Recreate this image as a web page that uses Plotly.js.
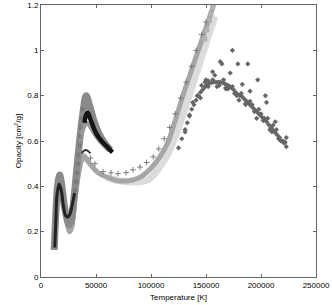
<!DOCTYPE html>
<html><head><meta charset="utf-8">
<script src="https://cdn.plot.ly/plotly-3.0.1.min.js"></script>
<style>html,body{margin:0;padding:0;background:#fff}#c{width:332px;height:305px}</style>
</head><body><div id="c"></div>
<script>
// Very light band (shifted right)
const paleT = [60000,70000,80000,90000,98000,104000,110000,116000,122000,128000,134000,140000,146000,152000,158000];
const paleO = [0.44,0.425,0.42,0.42,0.43,0.46,0.50,0.55,0.62,0.70,0.79,0.88,0.97,1.06,1.15];
// Lower band (light gray), rising to the top
const lowT = [12000,13500,15000,16500,18500,21000,23500,26000,28000,30000,33000,36000,39000,42000,46000,52000,60000,70000,80000,90000,100000,108000,115000,122000,129000,136000,143000,150000,157000];
const lowO = [0.12,0.24,0.38,0.44,0.42,0.33,0.25,0.20,0.22,0.30,0.42,0.50,0.535,0.515,0.49,0.46,0.44,0.425,0.425,0.44,0.48,0.53,0.59,0.69,0.80,0.90,1.0,1.1,1.2];
// Squares at the top end
const sqT = [149000,151000,153000,154500,156000,157500];
const sqO = [1.05,1.09,1.13,1.16,1.19,1.21];
// Crosses
const crT = [45000,49000,56400,63600,70000,77300,83600,90000,96000,102000,107000,112000,117000,122000,127000,132000,137000,141000,146000,150000];
const crO = [0.525,0.50,0.465,0.46,0.456,0.46,0.473,0.485,0.505,0.53,0.565,0.61,0.66,0.72,0.79,0.86,0.93,1.0,1.07,1.125];
// Medium gray band with high peak
const medT = [12000,13500,15000,17000,19000,21000,23000,25500,27500,30000,34000,38000,41000,44000,48000,53000,58000,63000];
const medO = [0.12,0.28,0.40,0.45,0.40,0.32,0.27,0.23,0.25,0.35,0.55,0.72,0.80,0.76,0.69,0.63,0.59,0.56];
// Lighter gray curve under the black
const midT = [36000,39000,42000,45000,50000,55000,60000];
const midO = [0.60,0.66,0.68,0.66,0.62,0.59,0.565];
// Black curve, low-temperature part
const blkLowT = [12500,13500,14500,16500,18500,20500,22500,24500,26500,28500,30500];
const blkLowO = [0.13,0.25,0.36,0.41,0.38,0.31,0.27,0.265,0.28,0.32,0.37];
// Black curve, peak part
const blkT = [39500,41000,42500,45000,50000,55000,60000,65000];
const blkO = [0.68,0.715,0.725,0.695,0.635,0.60,0.575,0.55];
// Open circles along the rising flank
const ocT = [31000,32000,33000,33500,34000,35000,35500,36000,37000,37500];
const ocO = [0.38,0.42,0.46,0.50,0.54,0.58,0.62,0.66,0.70,0.74];
// Small dark curve near lower peak
const dkT = [37000,39000,41000,43000,45000];
const dkO = [0.545,0.557,0.56,0.555,0.545];
// Dark diamonds
const diaT = [125000,128000,131000,133000,135000,137000,139000,141000,143000,145000,147000,149000,151000,153000,155000,157000,159000,161000,163000,165000,167000,169000,171000,173000,175000,177000,179000,181000,183000,185000,187000,189000,191000,193000,195000,197000,199000,201000,203000,205000,207000,209000,211000,213000,215000,217000,219000,221000,223000,
  163000,164500,174000,179000,188000,156000,172000,158000,183000,197000,190000,204000,205000,213000,216000,223000,149000,131000,135000,145000,150000,160000,168000,176000,186000,196000,200000,208000,211000,220000,
  138000,142000,146000,152000,156000,162000,166000,170000,174000,178000,182000,186000,190000,194000,198000,202000,206000,210000,214000,218000,222000,152000,168000,180000,192000,203000];
const diaO = [0.57,0.61,0.65,0.68,0.71,0.74,0.76,0.78,0.80,0.815,0.826,0.838,0.848,0.855,0.857,0.86,0.86,0.86,0.86,0.857,0.853,0.848,0.843,0.835,0.826,0.815,0.805,0.80,0.795,0.785,0.775,0.765,0.755,0.745,0.735,0.725,0.715,0.705,0.695,0.685,0.672,0.66,0.648,0.636,0.625,0.615,0.60,0.59,0.575,
  0.95,0.94,1.0,0.94,0.94,0.905,0.90,0.89,0.85,0.87,0.82,0.80,0.77,0.685,0.61,0.615,0.86,0.64,0.715,0.79,0.87,0.84,0.83,0.81,0.76,0.70,0.72,0.65,0.67,0.60,
  0.77,0.80,0.845,0.84,0.87,0.845,0.87,0.83,0.84,0.80,0.81,0.765,0.775,0.73,0.74,0.69,0.70,0.64,0.65,0.60,0.595,0.865,0.835,0.78,0.76,0.70];

const axisFont = {family: 'Liberation Sans, Arial, sans-serif', size: 8, color: '#000'};
const traces = [
  {x: paleT, y: paleO, mode: 'lines', line: {color: '#dcdcdc', width: 7, shape: 'spline'}},
  {x: lowT, y: lowO, mode: 'lines', line: {color: '#a6a6a6', width: 5, shape: 'spline'}},
  {x: sqT, y: sqO, mode: 'markers', marker: {symbol: 'square', size: 5, color: '#b4b4b4'}},
  {x: crT, y: crO, mode: 'markers', marker: {symbol: 'cross-thin-open', size: 4, color: '#7a7a7a', line: {color: '#7a7a7a', width: 1}}},
  {x: blkLowT, y: blkLowO, mode: 'lines', line: {color: '#151515', width: 4, shape: 'spline'}},
  {x: medT, y: medO, mode: 'lines', line: {color: '#8a8a8a', width: 7, shape: 'spline'}},
  {x: midT, y: midO, mode: 'lines', line: {color: '#9a9a9a', width: 4, shape: 'spline'}},
  {x: ocT, y: ocO, mode: 'markers', marker: {symbol: 'circle-open', size: 3, color: '#666', line: {color: '#666', width: 0.8}}},
  {x: blkLowT, y: blkLowO, mode: 'lines', line: {color: '#222', width: 3, shape: 'spline'}},
  {x: blkT, y: blkO, mode: 'lines', line: {color: '#151515', width: 4.5, shape: 'spline'}},
  {x: dkT, y: dkO, mode: 'lines', line: {color: '#333', width: 2, shape: 'spline'}},
  {x: diaT, y: diaO, mode: 'markers', marker: {symbol: 'diamond', size: 4, color: '#666'}}
];
const layout = {
  width: 332, height: 305,
  margin: {l: 41, r: 16, t: 5, b: 28},
  showlegend: false,
  paper_bgcolor: '#fff', plot_bgcolor: '#fff',
  font: axisFont,
  xaxis: {range: [0, 250000], tickvals: [0,50000,100000,150000,200000,250000], ticktext: ['0','50000','100000','150000','200000','250000'],
    showgrid: false, zeroline: false, showline: true, linecolor: '#666', linewidth: 1, mirror: 'ticks',
    ticks: 'inside', ticklen: 3, tickcolor: '#666', tickfont: axisFont,
    title: {text: 'Temperature [K]', font: axisFont, standoff: 5}},
  yaxis: {range: [0, 1.2], tickvals: [0,0.2,0.4,0.6,0.8,1,1.2], ticktext: ['0','0.2','0.4','0.6','0.8','1','1.2'],
    showgrid: false, zeroline: false, showline: true, linecolor: '#666', linewidth: 1, mirror: 'ticks',
    ticks: 'inside', ticklen: 3, tickcolor: '#666', tickfont: axisFont,
    title: {text: 'Opacity [cm<sup>2</sup>/g]', font: axisFont, standoff: 4}}
};
Plotly.newPlot('c', traces, layout, {staticPlot: true, displayModeBar: false});
</script></body></html>
